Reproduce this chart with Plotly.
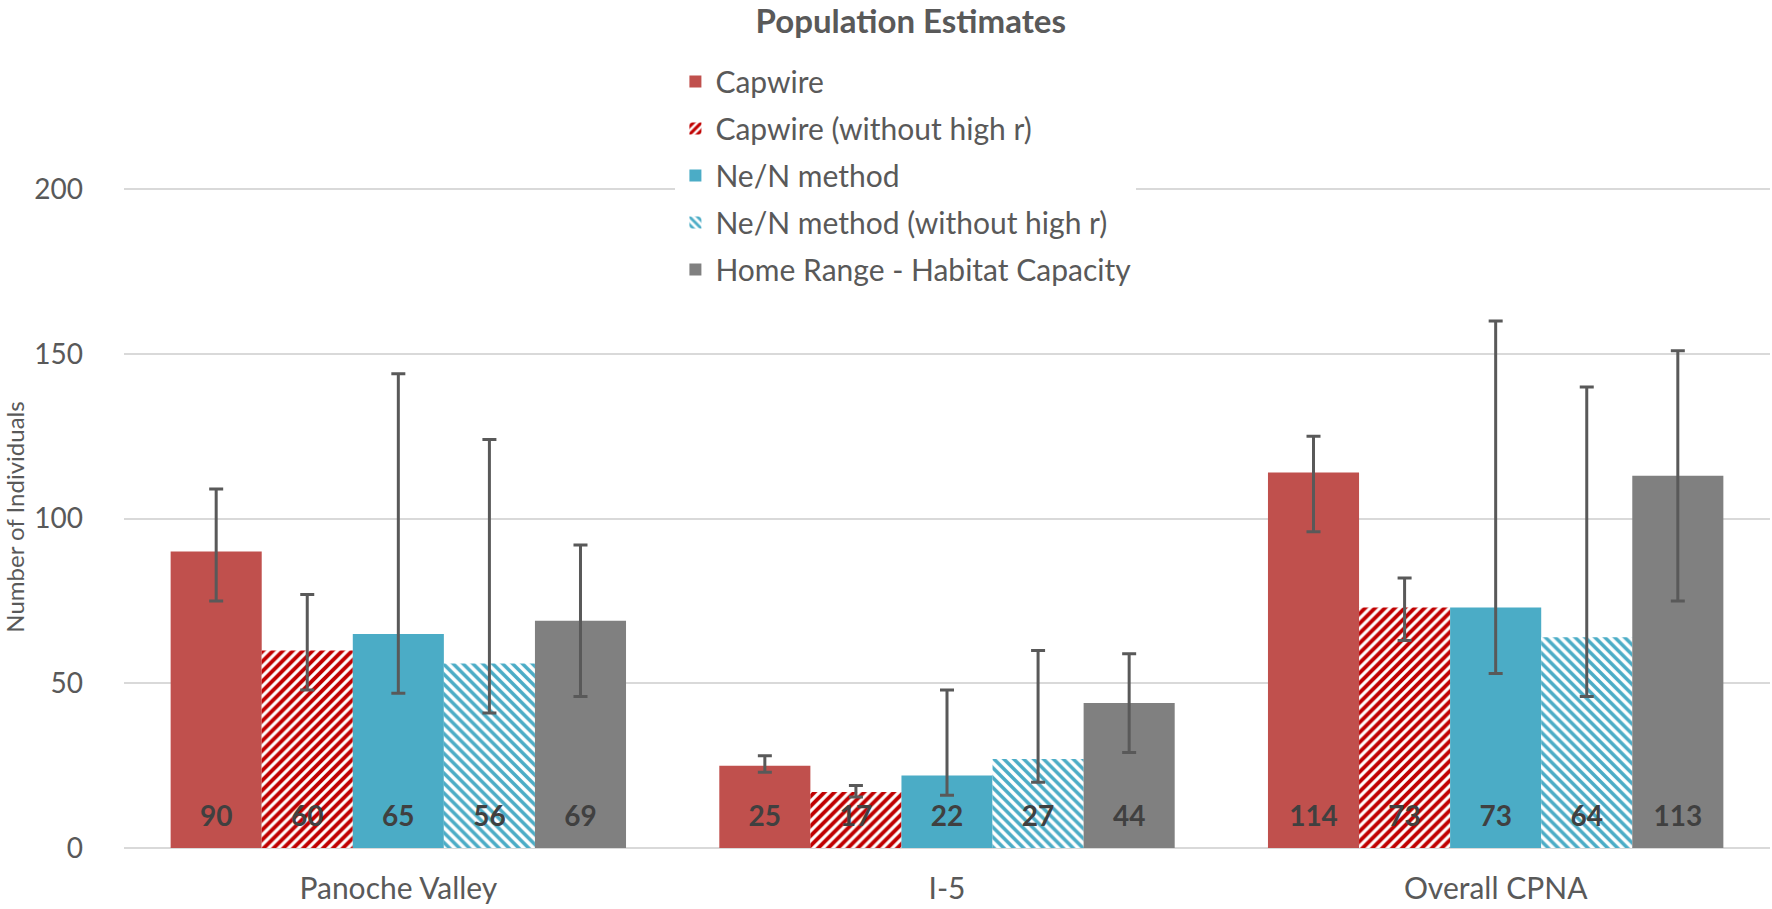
import plotly.graph_objects as go

categories = ["Panoche Valley", "I-5", "Overall CPNA"]
series_names = [
    "Capwire",
    "Capwire (without high r)",
    "Ne/N method",
    "Ne/N method (without high r)",
    "Home Range - Habitat Capacity",
]
capwire = [90, 25, 114]
capwire_lo = [75, 23, 96]
capwire_hi = [109, 28, 125]

capwire_nohr = [60, 17, 73]
capwire_nohr_lo = [48, 15.5, 63]
capwire_nohr_hi = [77, 19, 82]

nen = [65, 22, 73]
nen_lo = [47, 16, 53]
nen_hi = [144, 48, 160]

nen_nohr = [56, 27, 64]
nen_nohr_lo = [41, 20, 46]
nen_nohr_hi = [124, 60, 140]

homerange = [69, 44, 113]
homerange_lo = [46, 29, 75]
homerange_hi = [92, 59, 151]

y_ticks = [0, 50, 100, 150, 200]

values = [capwire, capwire_nohr, nen, nen_nohr, homerange]
lows = [capwire_lo, capwire_nohr_lo, nen_lo, nen_nohr_lo, homerange_lo]
highs = [capwire_hi, capwire_nohr_hi, nen_hi, nen_nohr_hi, homerange_hi]

styles = [
    dict(color="#C0504D"),
    dict(color="white", pattern=dict(shape="/", fgcolor="#C00000", bgcolor="white", fgopacity=1,
                                     size=7, solidity=0.55, fillmode="overlay")),
    dict(color="#4BACC6"),
    dict(color="white", pattern=dict(shape="\\", fgcolor="#4BACC6", bgcolor="white", fgopacity=1,
                                     size=7, solidity=0.5, fillmode="overlay")),
    dict(color="#808080"),
]

FONT = "Lato, Calibri, Carlito, sans-serif"
GAP = 0.17
fig = go.Figure()
for i, (name, v, lo, hi, st) in enumerate(zip(series_names, values, lows, highs, styles)):
    marker = dict(line=dict(width=0))
    marker.update(st)
    fig.add_trace(go.Bar(
        name=name,
        x=categories,
        y=v,
        marker=marker,
        legendgroup=f"g{i}",
        offsetgroup=str(i),
        error_y=dict(
            type="data",
            symmetric=False,
            array=[h - a for h, a in zip(hi, v)],
            arrayminus=[a - l for a, l in zip(v, lo)],
            color="#595959",
            thickness=3,
            width=7,
        ),
    ))

# data labels anchored at the bar base (y = 0) and grouped like the bars
for i, v in enumerate(values):
    fig.add_trace(go.Scatter(
        x=categories,
        y=[0] * len(v),
        mode="markers+text",
        marker=dict(size=23, opacity=0),
        text=[str(t) for t in v],
        textposition="top center",
        textfont=dict(family=FONT, size=28, color="#404040", weight="bold"),
        offsetgroup=str(i),
        showlegend=False,
        hoverinfo="skip",
        cliponaxis=False,
    ))

fig.update_layout(
    width=1772,
    height=909,
    barmode="group",
    bargap=GAP,
    bargroupgap=0,
    scattermode="group",
    scattergap=GAP,
    plot_bgcolor="white",
    paper_bgcolor="white",
    font=dict(family=FONT, size=30, color="#595959"),
    margin=dict(l=124, r=2, t=186, b=61, pad=0),
    title=dict(
        text="<b>Population Estimates</b>",
        x=1066 / 1772,
        xanchor="right",
        xref="container",
        y=1 - 21 / 909,
        yanchor="middle",
        font=dict(family=FONT, size=33, color="#595959"),
    ),
    legend=dict(
        x=0.335,
        y=1.197,
        xanchor="left",
        yanchor="top",
        bgcolor="white",
        font=dict(family=FONT, size=30, color="#595959"),
        tracegroupgap=5,
        traceorder="grouped",
    ),
    showlegend=True,
)
fig.update_yaxes(
    range=[0, 201],
    tickvals=y_ticks,
    showgrid=True,
    gridcolor="#D9D9D9",
    gridwidth=2,
    zeroline=True,
    zerolinecolor="#D9D9D9",
    zerolinewidth=2,
    showline=False,
    ticks="",
    ticklabelstandoff=40,
    tickfont=dict(family=FONT, size=28, color="#595959"),
    title=dict(text="Number of Individuals", font=dict(family=FONT, size=24, color="#595959"), standoff=10),
)
fig.update_xaxes(
    showline=False,
    ticks="",
    ticklabelstandoff=20,
    tickfont=dict(family=FONT, size=30, color="#595959"),
)

fig.write_html(
    "out.html",
    config={"displayModeBar": False},
    post_script="document.body.style.margin='0';",
)
